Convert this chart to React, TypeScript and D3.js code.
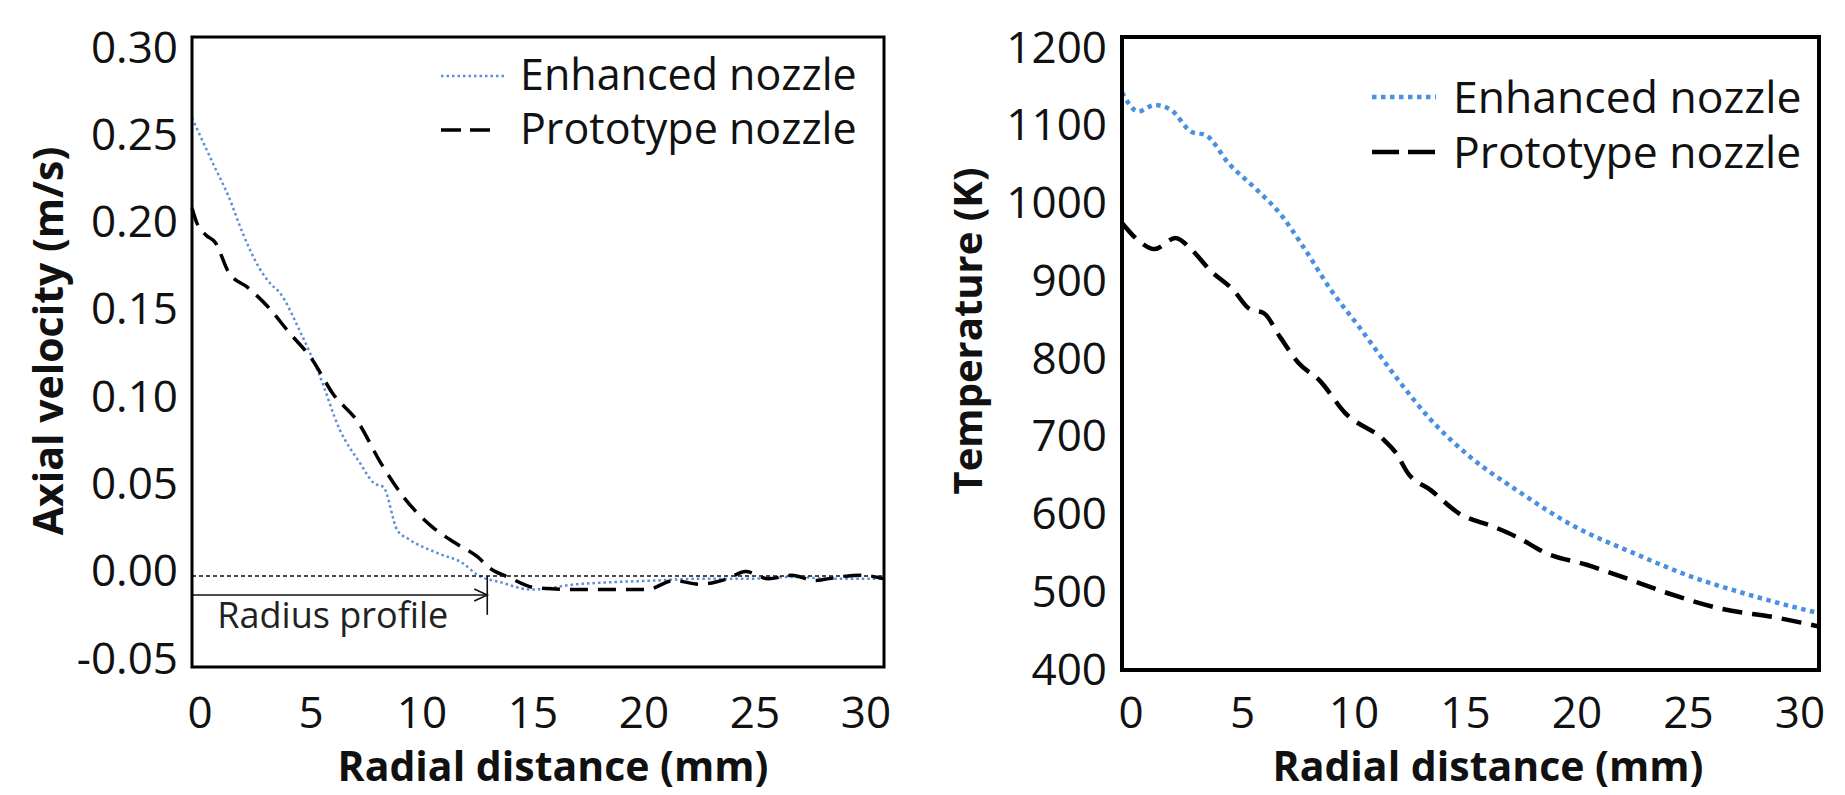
import React from "react";
import * as d3 from "d3";

// ---- data ----
const xTicks = [0, 5, 10, 15, 20, 25, 30];
const velTicks = [-0.05, 0, 0.05, 0.1, 0.15, 0.2, 0.25, 0.3];
const tempTicks = [400, 500, 600, 700, 800, 900, 1000, 1100, 1200];
const seriesNames = ["Enhanced nozzle", "Prototype nozzle"];

// axial velocity (m/s) vs radial distance (mm)
const velEnhancedX = [0, 0.9, 1.6, 2.2, 2.9, 3.4, 3.8, 4.7, 5.5, 6.4, 7.3, 7.9, 8.3, 8.9, 9.4, 10.7, 11.7, 12.4, 13.4, 14.7, 16.7, 18, 20, 22, 24, 26, 28, 30];
const velEnhanced = [0.255, 0.23, 0.211, 0.191, 0.172, 0.163, 0.158, 0.136, 0.113, 0.082, 0.063, 0.052, 0.05, 0.026, 0.021, 0.013, 0.008, 0.001, -0.003, -0.007, -0.004, -0.003, -0.002, -0.001, -0.001, 0.0, -0.001, -0.001];
const velPrototypeX = [0, 0.2, 0.6, 1.0, 1.6, 2.4, 3.3, 4.2, 5.2, 6.1, 7.2, 8.2, 9.2, 10.4, 11.4, 12.4, 12.9, 13.7, 14.9, 16.7, 17.9, 19.7, 20.9, 22, 23.2, 24, 25, 26, 27, 28, 29, 30];
const velPrototype = [0.205, 0.197, 0.19, 0.186, 0.169, 0.161, 0.15, 0.136, 0.121, 0.102, 0.086, 0.063, 0.044, 0.028, 0.019, 0.011, 0.005, 0.0, -0.006, -0.007, -0.007, -0.007, -0.002, -0.004, -0.001, 0.003, -0.001, 0.001, -0.002, 0.0, 0.001, -0.001];

// temperature (K) vs radial distance (mm)
const tempEnhancedX = [0, 0.7, 1.4, 2.1, 3.0, 3.6, 4.6, 5.8, 6.8, 7.8, 9.0, 10.3, 11.9, 13.3, 15.0, 17.0, 19.5, 22.0, 24.5, 27.0, 29.7, 30];
const tempEnhanced = [1130, 1106, 1114, 1108, 1080, 1076, 1040, 1007, 977, 935, 880, 830, 766, 716, 669, 627, 581, 548, 518, 495, 474, 472];
const tempPrototypeX = [0, 0.7, 1.4, 2.3, 3.0, 3.8, 4.8, 5.5, 6.1, 6.8, 7.6, 8.5, 9.6, 11.3, 11.8, 12.3, 13.3, 14.5, 16.0, 17.0, 18.3, 20.0, 21.5, 23.5, 25.7, 28.2, 30];
const tempPrototype = [965, 943, 932, 946, 931, 905, 880, 856, 851, 821, 788, 766, 725, 690, 674, 649, 627, 598, 581, 568, 547, 533, 518, 497, 478, 466, 455];

// radius profile annotation (mm, m/s)
const radiusProfile = 12.8;
const arrowLevel = -0.01;

const FONT = "'Open Sans', sans-serif";

const zip = (xs: number[], ys: number[]) => xs.map((x, i) => [x, ys[i]] as [number, number]);

function Panel(props: any) {
  const { box, xLab, yLab, yDomain, yTicks, fmt, lines, legend, xTitle, yTitle, frameW } = props;
  const x = d3.scaleLinear().domain([0, 30]).range([box.x0, box.x1]);
  const y = d3.scaleLinear().domain(yDomain).range([box.y1, box.y0]);
  // tick labels sit a little inside the frame in the reference
  const xl = d3.scaleLinear().domain([0, 30]).range(xLab);
  const yl = d3.scaleLinear().domain(yDomain).range(yLab);
  const line = d3
    .line<[number, number]>()
    .x((d) => x(d[0]))
    .y((d) => y(d[1]))
    .curve(d3.curveMonotoneX);

  return (
    <g>
      {lines.map((l: any, i: number) => (
        <path key={i} d={line(l.pts) || ""} fill="none" stroke={l.color} strokeWidth={l.width} strokeDasharray={l.dash} />
      ))}
      {props.children ? props.children(x, y) : null}
      <rect x={box.x0} y={box.y0} width={box.x1 - box.x0} height={box.y1 - box.y0} fill="none" stroke="#000" strokeWidth={frameW} />
      {yTicks.map((t: number) => (
        <text key={t} x={box.labelRight} y={yl(t) + 15.5} textAnchor="end" fontFamily={FONT} fontSize={44} fill="#111">
          {fmt(t)}
        </text>
      ))}
      {xTicks.map((t) => (
        <text key={t} x={xl(t)} y={728} textAnchor="middle" fontFamily={FONT} fontSize={44} fill="#111">
          {t}
        </text>
      ))}
      <text x={xTitle.x} y={781} textAnchor="middle" fontFamily={FONT} fontSize={41} fontWeight="bold" fill="#111">
        Radial distance (mm)
      </text>
      <text
        transform={`translate(${yTitle.x},${yTitle.y}) rotate(-90)`}
        textAnchor="middle"
        fontFamily={FONT}
        fontSize={yTitle.size}
        fontWeight="bold"
        fill="#111"
      >
        {yTitle.text}
      </text>
      {lines.map((l: any, i: number) => (
        <g key={"lg" + i}>
          <line
            x1={legend.sx0}
            x2={legend.sx1[i]}
            y1={legend.sy[i]}
            y2={legend.sy[i]}
            stroke={l.color}
            strokeWidth={l.width}
            strokeDasharray={l.legendDash}
          />
          <text x={legend.tx} y={legend.ty[i]} fontFamily={FONT} fontSize={legend.size} fill="#111">
            {seriesNames[i]}
          </text>
        </g>
      ))}
    </g>
  );
}

export default function App() {
  return (
    <svg width={1845} height={795} style={{ position: "absolute", left: 0, top: 0, background: "#fff" }}>
      <rect width={1845} height={795} fill="#fff" />
      <Panel
        box={{ x0: 192, x1: 884, y0: 37, y1: 667, labelRight: 178 }}
        xLab={[200, 866]}
        yLab={[658, 47]}
        yDomain={[-0.05, 0.3]}
        yTicks={velTicks}
        fmt={(v: number) => d3.format(".2f")(v).replace("−", "-")}
        frameW={3}
        xTitle={{ x: 553 }}
        yTitle={{ x: 63, y: 341, size: 41, text: "Axial velocity (m/s)" }}
        legend={{ sx0: 441, sx1: [505, 490], sy: [76, 130], tx: 520, ty: [90, 144], size: 43 }}
        lines={[
          { pts: zip(velEnhancedX, velEnhanced), color: "#5b8fd6", width: 2.5, dash: "2.5 3", legendDash: "2.5 3" },
          { pts: zip(velPrototypeX, velPrototype), color: "#000", width: 3.5, dash: "18 10", legendDash: "20 9" },
        ]}
      >
        {(x: any, y: any) => {
          const ax = x(radiusProfile);
          const ay = y(arrowLevel);
          return (
            <g stroke="#111" strokeWidth={1.6} fill="none">
              <line x1={x(0)} x2={x(30)} y1={y(0) - 1} y2={y(0) - 1} strokeDasharray="4 3" />
              <line x1={x(0)} x2={ax} y1={ay} y2={ay} />
              <polyline points={`${ax - 13},${ay - 6} ${ax},${ay} ${ax - 13},${ay + 6}`} />
              <line x1={ax} x2={ax} y1={y(0) - 1} y2={y(-0.021)} />
              <text x={x(1.1)} y={628} stroke="none" fill="#222" fontFamily={FONT} fontSize={36}>
                Radius profile
              </text>
            </g>
          );
        }}
      </Panel>
      <Panel
        box={{ x0: 1122, x1: 1819, y0: 37, y1: 670, labelRight: 1107 }}
        xLab={[1131, 1800]}
        yLab={[669, 47]}
        yDomain={[400, 1200]}
        yTicks={tempTicks}
        fmt={(v: number) => String(v)}
        frameW={4}
        xTitle={{ x: 1488 }}
        yTitle={{ x: 982, y: 331, size: 40, text: "Temperature (K)" }}
        legend={{ sx0: 1372, sx1: [1436, 1435], sy: [97, 152], tx: 1453, ty: [113, 168], size: 44.5 }}
        lines={[
          { pts: zip(tempEnhancedX, tempEnhanced), color: "#4a8fe2", width: 4.5, dash: "4.5 4.5", legendDash: "4.5 4.5" },
          { pts: zip(tempPrototypeX, tempPrototype), color: "#000", width: 4.5, dash: "20 10", legendDash: "27 9" },
        ]}
      />
    </svg>
  );
}
